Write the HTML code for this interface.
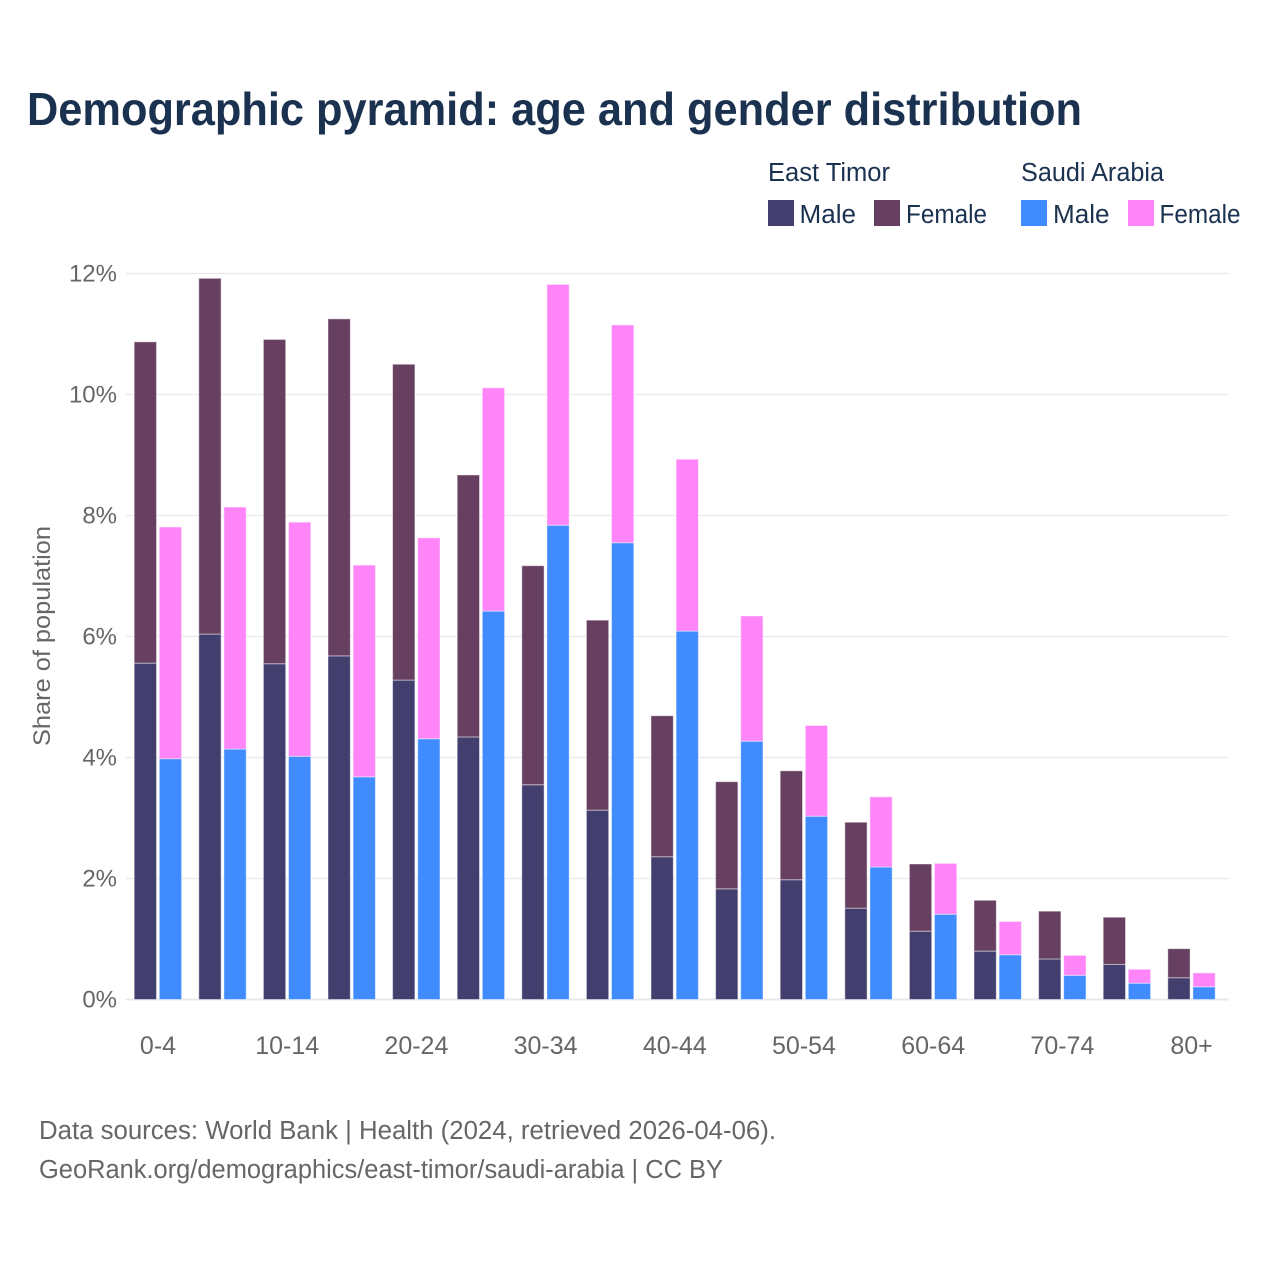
<!DOCTYPE html>
<html lang="en">
<head>
<meta charset="utf-8">
<title>Demographic pyramid: age and gender distribution</title>
<style>
html,body{margin:0;padding:0;background:#fff;}
svg{display:block;font-family:"Liberation Sans",sans-serif;}
</style>
</head>
<body>
<svg id="chart" xmlns="http://www.w3.org/2000/svg" width="1280" height="1280" viewBox="0 0 1280 1280">
  <rect x="0" y="0" width="1280" height="1280" fill="#ffffff"/>
  <text x="27" y="125" font-size="46" font-weight="700" fill="#1a3150" textLength="1055" lengthAdjust="spacingAndGlyphs">Demographic pyramid: age and gender distribution</text>

  <g font-size="25.5" fill="#1a3150">
    <text x="768" y="181" textLength="122" lengthAdjust="spacingAndGlyphs">East Timor</text>
    <text x="1021" y="181" textLength="143" lengthAdjust="spacingAndGlyphs">Saudi Arabia</text>
    <rect x="768" y="200" width="26" height="26" fill="#423f6f"/>
    <text x="799.5" y="223" textLength="56.5" lengthAdjust="spacingAndGlyphs">Male</text>
    <rect x="874" y="200" width="26" height="26" fill="#673f60"/>
    <text x="906" y="223" textLength="81" lengthAdjust="spacingAndGlyphs">Female</text>
    <rect x="1021" y="200" width="26" height="26" fill="#408cff"/>
    <text x="1053" y="223" textLength="56.5" lengthAdjust="spacingAndGlyphs">Male</text>
    <rect x="1128" y="200" width="26" height="26" fill="#ff85f8"/>
    <text x="1159.5" y="223" textLength="81" lengthAdjust="spacingAndGlyphs">Female</text>
  </g>

  <g id="grid"></g>
  <g id="bars"></g>
  <g id="xticks"></g>

  <text transform="translate(50,636) rotate(-90)" text-anchor="middle" font-size="24" fill="#666666" textLength="220" lengthAdjust="spacingAndGlyphs">Share of population</text>

  <text x="39" y="1139" font-size="25.5" fill="#666666" textLength="737" lengthAdjust="spacingAndGlyphs">Data sources: World Bank | Health (2024, retrieved 2026-04-06).</text>
  <text x="39" y="1178" font-size="25.5" fill="#666666" textLength="684" lengthAdjust="spacingAndGlyphs">GeoRank.org/demographics/east-timor/saudi-arabia | CC BY</text>
</svg>
<script>
const categories = ["0-4","5-9","10-14","15-19","20-24","25-29","30-34","35-39","40-44","45-49","50-54","55-59","60-64","65-69","70-74","75-79","80+"];
const tickLabels = ["0-4","10-14","20-24","30-34","40-44","50-54","60-64","70-74","80+"];
const yTicks = [0,2,4,6,8,10,12];
const eastTimorMale = [5.56,6.04,5.55,5.68,5.28,4.34,3.55,3.13,2.36,1.83,1.98,1.51,1.13,0.80,0.67,0.58,0.36];
const eastTimorFemale = [5.31,5.88,5.36,5.57,5.22,4.33,3.62,3.14,2.33,1.77,1.80,1.42,1.11,0.84,0.79,0.78,0.48];
const saudiArabiaMale = [3.98,4.14,4.02,3.68,4.31,6.42,7.84,7.55,6.09,4.27,3.03,2.19,1.41,0.74,0.40,0.27,0.21];
const saudiArabiaFemale = [3.83,4.00,3.87,3.50,3.32,3.69,3.98,3.60,2.84,2.07,1.50,1.16,0.84,0.55,0.33,0.23,0.23];

const NS = "http://www.w3.org/2000/svg";
const plotLeft = 125.5, plotRight = 1228.5, plotTop = 273.5, plotBottom = 999.5, yMax = 12;
const bandLeft = 125.7, bandRight = 1223.9;
const step = (bandRight - bandLeft) / categories.length;
const barWidth = 22.3, barGap = 2;

function xCenter(i) { return bandLeft + step * (i + 0.5); }
function yScale(v) { return plotBottom - (v / yMax) * (plotBottom - plotTop); }

function make(tag, attrs) {
  const el = document.createElementNS(NS, tag);
  for (const k in attrs) el.setAttribute(k, attrs[k]);
  return el;
}

const gridG = document.getElementById("grid");
yTicks.forEach(function (t) {
  const line = make("line", { x1: plotLeft, x2: plotRight, y1: yScale(t), y2: yScale(t), stroke: "#e9e9ed", "stroke-width": t === 0 ? 2 : 1.2 });
  
  
  gridG.appendChild(line);
  const label = make("text", { x: 117, y: yScale(t) + 8, "text-anchor": "end", "font-size": 24, fill: "#666666" });
  
  
  label.textContent = t + "%";
  gridG.appendChild(label);
});

function segment(parent, x, from, value, fill, name) {
  const top = yScale(from + value), bottom = yScale(from);
  const r = make("rect", { x: x, y: top, width: barWidth, height: bottom - top, fill: fill, stroke: "#ffffff", "stroke-opacity": 0.45, "stroke-width": 1 });
  
  
  parent.appendChild(r);
}

const barsG = document.getElementById("bars");
categories.forEach(function (c, i) {
  const xa = xCenter(i) - barGap / 2 - barWidth - 0.5;
  const xb = xCenter(i) + barGap / 2 + 0.3;
  segment(barsG, xa, 0, eastTimorMale[i], "#423f6f", "bar-east-timor-male");
  segment(barsG, xa, eastTimorMale[i], eastTimorFemale[i], "#673f60", "bar-east-timor-female");
  segment(barsG, xb, 0, saudiArabiaMale[i], "#408cff", "bar-saudi-arabia-male");
  segment(barsG, xb, saudiArabiaMale[i], saudiArabiaFemale[i], "#ff85f8", "bar-saudi-arabia-female");
});

const xG = document.getElementById("xticks");
categories.forEach(function (c, i) {
  if (tickLabels.indexOf(c) < 0) return;
  const t = make("text", { x: xCenter(i), y: 1054, "text-anchor": "middle", "font-size": 25, fill: "#666666" });
  
  
  t.textContent = c;
  xG.appendChild(t);
});
</script>
</body>
</html>
